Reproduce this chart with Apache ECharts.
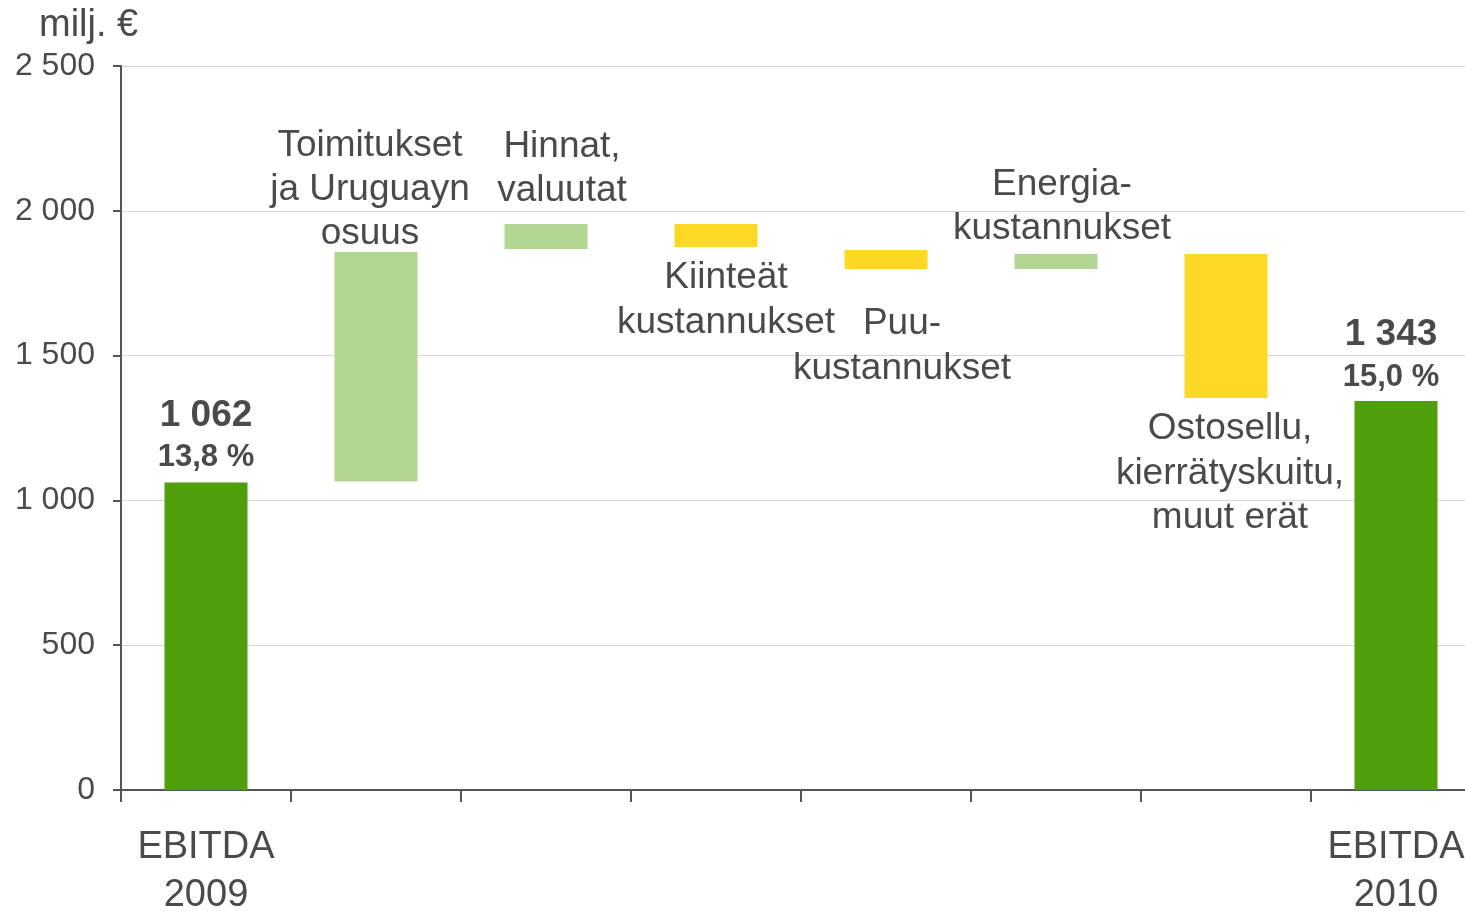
<!DOCTYPE html>
<html>
<head>
<meta charset="utf-8">
<script src="https://cdn.jsdelivr.net/npm/echarts@6/dist/echarts.min.js"></script>
<style>
html,body{margin:0;padding:0;background:#fff;}
#c{width:1465px;height:911px;}
</style>
</head>
<body>
<div id="c"></div>
<script>
// ---- data ----
const categories = ['EBITDA\n2009', 'Toimitukset\nja Uruguayn\nosuus', 'Hinnat,\nvaluutat', 'Kiinteät\nkustannukset', 'Puu-\nkustannukset', 'Energia-\nkustannukset', 'Ostosellu,\nkierrätyskuitu,\nmuut erät', 'EBITDA\n2010'];
const barBottoms = [0, 1065, 1868, 1875, 1799, 1799, 1354, 0];
const barTops = [1062, 1858, 1954, 1954, 1865, 1851, 1851, 1343];
const kinds = ['total', 'up', 'up', 'down', 'down', 'up', 'down', 'total'];
const ebitdaMargin = [13.8, null, null, null, null, null, null, 15.0];
const yTicks = [0, 500, 1000, 1500, 2000, 2500];
const unitLabel = 'milj. €';

// ---- styles ----
const kindColor = {total: '#4f9e0c', up: '#b2d591', down: '#fdd825'};
const textColor = '#4a4a4a';
const font = 'Liberation Sans, Arial, sans-serif';
// label placement per step: [position, distance, offsetX, lineHeight]
const placement = [
  ['top', 4, 0, 44], ['top', -4, -6, 44], ['top', 11, 16, 44], ['bottom', 8, 10, 45],
  ['bottom', 32, 16, 45], ['top', 3, 6, 44], ['bottom', 9, 4, 44.5], ['top', 3, -5, 44]
];

function fmtNum(v) { return String(v).replace(/\B(?=(\d{3})+(?!\d))/g, ' '); }
function fmtPct(v) { return v.toFixed(1).replace('.', ',') + ' %'; }

const heights = barTops.map((t, i) => t - barBottoms[i]);

const visData = heights.map((h, i) => {
  const [pos, dist, ox, lh] = placement[i];
  const isTotal = kinds[i] === 'total';
  return {
    value: h,
    itemStyle: {color: kindColor[kinds[i]]},
    label: {
      show: true,
      position: pos,
      distance: dist,
      offset: [ox, 0],
      formatter: isTotal
        ? '{v|' + fmtNum(barTops[i]) + '}\n{p|' + fmtPct(ebitdaMargin[i]) + '}'
        : categories[i],
      color: textColor,
      fontFamily: font,
      fontSize: 37,
      lineHeight: lh,
      align: 'center',
      rich: {
        v: {fontSize: 37, fontWeight: 'bold', color: textColor, fontFamily: font, lineHeight: 42, align: 'center'},
        p: {fontSize: 31, fontWeight: 'bold', color: textColor, fontFamily: font, lineHeight: 42, align: 'center'}
      }
    }
  };
});

const chart = echarts.init(document.getElementById('c'), null, {renderer: 'canvas'});
chart.setOption({
  animation: false,
  backgroundColor: '#fff',
  title: {
    text: unitLabel, left: 34, top: 2,
    textStyle: {fontFamily: font, fontSize: 38, fontWeight: 'normal', color: textColor}
  },
  grid: {left: 121, right: -16, top: 66, bottom: 121, containLabel: false, outerBoundsMode: 'none'},
  xAxis: {
    type: 'category',
    data: categories,
    axisLine: {lineStyle: {color: '#555', width: 2}},
    axisTick: {show: true, length: 12, lineStyle: {color: '#555', width: 2}},
    axisLabel: {
      interval: 0,
      margin: 34,
      color: textColor,
      fontFamily: font,
      fontSize: 38,
      lineHeight: 48,
      formatter: (v, i) => kinds[i] === 'total' ? v : ''
    },
    splitLine: {show: false}
  },
  yAxis: {
    type: 'value',
    min: yTicks[0],
    max: yTicks[yTicks.length - 1],
    interval: yTicks[1] - yTicks[0],
    axisLine: {show: true, lineStyle: {color: '#555', width: 2}},
    axisTick: {show: true, length: 8, lineStyle: {color: '#555', width: 2}},
    axisLabel: {
      margin: 26,
      color: textColor,
      fontFamily: font,
      fontSize: 32,
      formatter: v => fmtNum(v)
    },
    splitLine: {lineStyle: {color: '#d4d4d4', width: 1}}
  },
  series: [
    {
      type: 'bar',
      stack: 'w',
      barWidth: 83,
      itemStyle: {color: 'transparent'},
      emphasis: {disabled: true},
      data: barBottoms
    },
    {
      type: 'bar',
      stack: 'w',
      barWidth: 83,
      emphasis: {disabled: true},
      data: visData
    }
  ]
});
</script>
</body>
</html>
